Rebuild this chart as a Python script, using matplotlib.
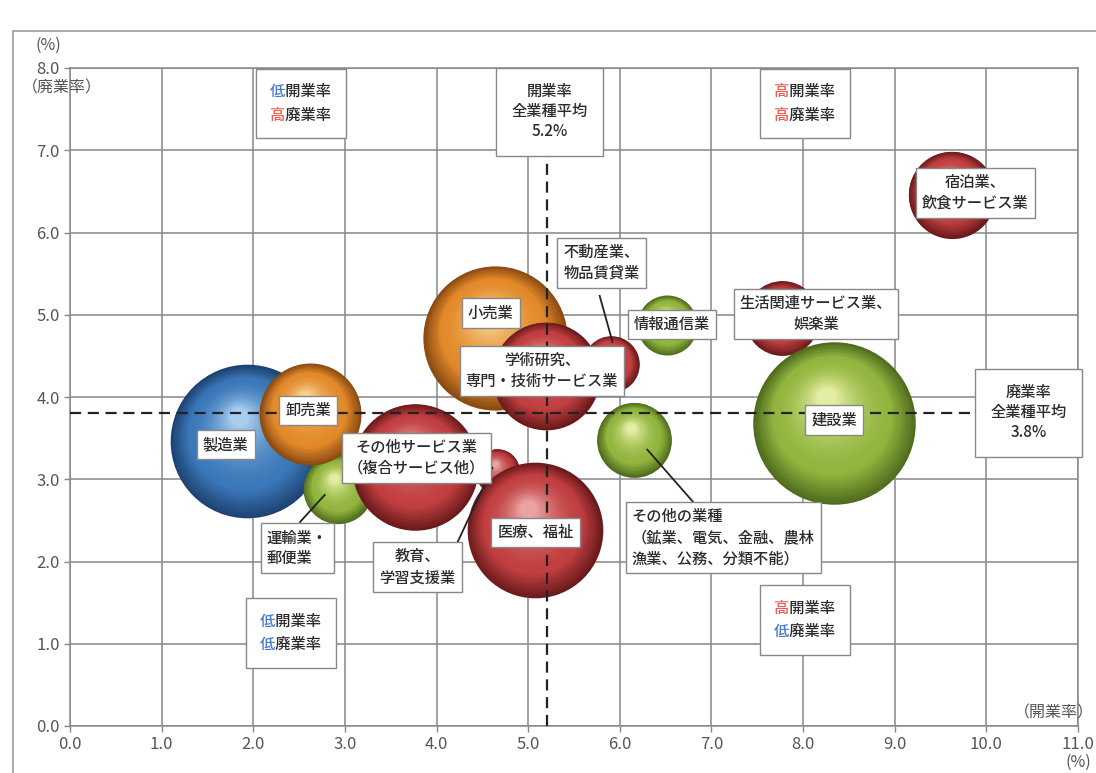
import numpy as np
import matplotlib
matplotlib.use('Agg')
import matplotlib.pyplot as plt
from matplotlib.patches import Rectangle
from matplotlib.transforms import ScaledTranslation
from matplotlib.colors import to_rgb

plt.rcParams['font.family'] = ['Noto Sans CJK JP', 'DejaVu Sans']

# industries: opening rate (x), closing rate (y), relative bubble size, colour group
industries = ['製造業', '運輸業・郵便業', '卸売業', '小売業', '不動産業、物品賃貸業',
              '学術研究、専門・技術サービス業', 'その他サービス業', '教育、学習支援業',
              '医療、福祉', '情報通信業', '生活関連サービス業、娯楽業', '建設業',
              'その他の業種', '宿泊業、飲食サービス業']
open_rate = [1.93, 2.92, 2.62, 4.64, 5.90, 5.19, 3.77, 4.66, 5.07, 6.52, 7.77, 8.34, 6.16, 9.62]
close_rate = [3.46, 2.88, 3.79, 4.72, 4.40, 4.26, 3.15, 3.10, 2.38, 4.87, 4.96, 3.68, 3.48, 6.46]
bubble_size = [59, 12, 26, 52, 8, 29, 40, 5, 46, 9, 14, 66, 14, 19]
group = ['blue', 'green', 'orange', 'orange', 'red', 'red', 'red', 'red', 'red',
         'green', 'red', 'green', 'green', 'red']

avg_open = 5.2
avg_close = 3.8

palette = {
    'blue':   ('#1d4272', '#3b78b9', '#a8cdef'),
    'orange': ('#8a4a12', '#e3892a', '#f8d292'),
    'green':  ('#4f6c1e', '#91b53e', '#e4eea2'),
    'red':    ('#6a1a1c', '#c23f41', '#e8a4a2'),
}

fig = plt.figure(figsize=(10.96, 7.73), dpi=100)
ax = fig.add_axes([70 / 1096, 1 - 726 / 773, 1008 / 1096, 658 / 773])

# outer frame
fig.add_artist(Rectangle((13 / 1096, -0.05), 1.1, 1 - 31 / 773 + 0.05, transform=fig.transFigure,
                         fill=False, edgecolor='#9a9a9a', linewidth=1.2))

ax.set_xlim(0, 11)
ax.set_ylim(0, 8)
ax.set_xticks(np.arange(0, 12, 1))
ax.set_yticks(np.arange(0, 9, 1))
ax.set_xticklabels([f'{v:.1f}' for v in np.arange(0, 12, 1)])
ax.set_yticklabels([f'{v:.1f}' for v in np.arange(0, 9, 1)])
ax.grid(True, color='#888888', linewidth=1.1, zorder=0)
ax.set_axisbelow(True)
for s in ax.spines.values():
    s.set_color('#888888')
    s.set_linewidth(1.1)
ax.tick_params(colors='#888888', labelcolor='#555555', labelsize=12, length=4, width=1)


def mix(c1, c2, t):
    a, b = np.array(to_rgb(c1)), np.array(to_rgb(c2))
    return tuple(a + (b - a) * t)


def sphere(x, y, size, colors, z):
    dark, base, light = colors
    r = np.sqrt(size) * 10
    n = 40
    for i in range(n):
        t = i / (n - 1)
        rad = r * (1 - 0.88 * t)
        if t < 0.3:
            col = mix(dark, base, t / 0.3)
        else:
            col = mix(base, light, ((t - 0.3) / 0.7) ** 1.8)
        dx = -0.10 * r * t
        dy = 0.32 * r * t
        tr = ax.transData + ScaledTranslation(dx / 100, dy / 100, fig.dpi_scale_trans)
        ax.scatter([x], [y], s=(2 * rad * 0.72) ** 2, color=col, linewidths=0,
                   transform=tr, zorder=z)


for k in range(len(industries)):
    sphere(open_rate[k], close_rate[k], bubble_size[k], palette[group[k]], 2 + k * 0.01)

# average lines
ax.axvline(avg_open, color='#222222', linestyle=(0, (5, 3)), linewidth=1.6, zorder=3)
ax.axhline(avg_close, color='#222222', linestyle=(0, (5, 3)), linewidth=1.6, zorder=3)

box = dict(boxstyle='square,pad=0.4', facecolor='white', edgecolor='#888888', linewidth=1)
tc = '#2b2b2b'
fs = 11
fw = 'medium'

labels = [
    ('製造業', 1.70, 3.42, 'center'),
    ('卸売業', 2.60, 3.84, 'center'),
    ('小売業', 4.59, 5.02, 'center'),
    ('学術研究、\n専門・技術サービス業', 5.15, 4.32, 'center'),
    ('不動産業、\n物品賃貸業', 5.80, 5.63, 'left'),
    ('情報通信業', 6.57, 4.88, 'center'),
    ('生活関連サービス業、\n娯楽業', 8.14, 5.01, 'center'),
    ('建設業', 8.34, 3.72, 'center'),
    ('宿泊業、\n飲食サービス業', 9.88, 6.48, 'center'),
    ('その他サービス業\n（複合サービス他）', 3.78, 3.26, 'center'),
    ('運輸業・\n郵便業', 2.48, 2.16, 'left'),
    ('教育、\n学習支援業', 3.79, 1.93, 'center'),
    ('医療、福祉', 5.08, 2.35, 'center'),
    ('その他の業種\n（鉱業、電気、金融、農林\n漁業、公務、分類不能）', 7.13, 2.29, 'left'),
]
for txt, lx, ly, al in labels:
    ax.text(lx, ly, txt, ha='center', va='center', multialignment=al, fontsize=fs,
            fontweight=fw, color=tc, bbox=box, zorder=6, linespacing=1.3)

# leader lines
leaders = [((5.78, 5.23), (5.92, 4.67)),
           ((2.51, 2.48), (2.78, 2.81)),
           ((4.21, 2.19), (4.61, 3.14)),
           ((6.85, 2.66), (6.30, 3.36))]
for (x0, y0), (x1, y1) in leaders:
    ax.plot([x0, x1], [y0, y1], color='#222222', linewidth=1.3, zorder=5)

avg_box = dict(boxstyle='square,pad=1.0', facecolor='white', edgecolor='#888888', linewidth=1)
ax.text(5.23, 7.47, f'開業率\n全業種平均\n{avg_open}%', ha='center', va='center', fontsize=fs,
        fontweight=fw, color=tc, bbox=avg_box, zorder=6, linespacing=1.25)
ax.text(10.46, 3.81, f'廃業率\n全業種平均\n{avg_close}%', ha='center', va='center', fontsize=fs,
        fontweight=fw, color=tc, bbox=avg_box, zorder=6, linespacing=1.25)

# quadrant boxes with coloured first character
red = '#ee5a52'
blue = '#4a7ccc'
quad = [
    (2.52, 7.57, '低', blue, '高', red),
    (8.02, 7.57, '高', red, '高', red),
    (2.41, 1.13, '低', blue, '低', blue),
    (8.02, 1.29, '高', red, '低', blue),
]
sp = '\u3000'
qbox = dict(boxstyle='square,pad=0.95', facecolor='white', edgecolor='#888888', linewidth=1)
for qx, qy, c1, col1, c2, col2 in quad:
    kw = dict(ha='center', va='center', fontsize=fs, fontweight=fw, linespacing=1.5, zorder=6)
    ax.text(qx, qy, c1 + '開業率\n' + c2 + '廃業率', color=(1, 1, 1, 0), bbox=qbox, **kw)
    ax.text(qx, qy, sp + '開業率\n' + sp + '廃業率', color=tc, **kw)
    ax.text(qx, qy, c1 + sp * 3 + '\n' + sp * 4, color=col1, **kw)
    ax.text(qx, qy, sp * 4 + '\n' + c2 + sp * 3, color=col2, **kw)

# axis captions
cc = '#555555'
fig.text(48 / 1096, 1 - 45 / 773, '(%)', ha='center', va='center', fontsize=11.5, color=cc)
fig.text(62 / 1096, 1 - 88 / 773, '（廃業率）', ha='center', va='center', fontsize=11.5, color=cc)
fig.text(1094 / 1096, 1 - 713 / 773, '（開業率）', ha='right', va='center', fontsize=11.5, color=cc)
fig.text(1078 / 1096, 1 - 762 / 773, '(%)', ha='center', va='center', fontsize=11.5, color=cc)

fig.savefig('out.png', dpi=100)
